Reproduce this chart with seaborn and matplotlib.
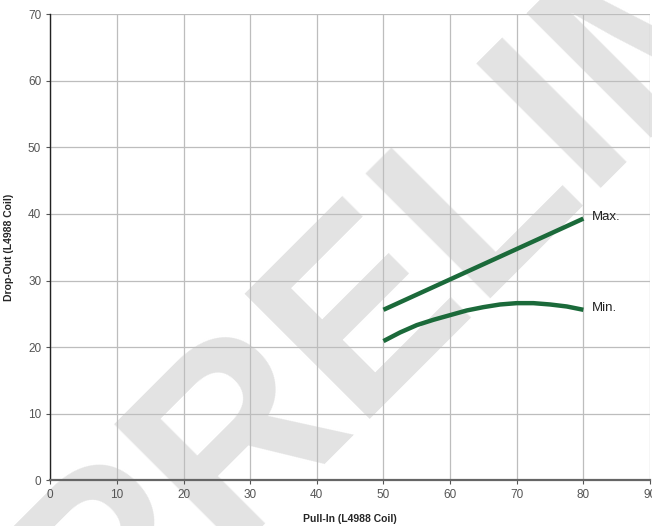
import numpy as np
import pandas as pd
import matplotlib
matplotlib.use("Agg")
import matplotlib.pyplot as plt
import seaborn as sns

# values
max_x = [50, 80]
max_y = [25.6, 39.3]
min_x = [50, 52.5, 55, 57.5, 60, 62.5, 65, 67.5, 70, 72.5, 75, 77.5, 80]
min_y = [20.9, 22.2, 23.3, 24.1, 24.8, 25.5, 26.0, 26.4, 26.6, 26.6, 26.4, 26.1, 25.6]
x_ticks = list(range(0, 91, 10))
y_ticks = list(range(0, 71, 10))

df = pd.concat([
    pd.DataFrame({"pull": max_x, "drop": max_y, "curve": "Max."}),
    pd.DataFrame({"pull": min_x, "drop": min_y, "curve": "Min."}),
])

sns.set_style("white")
plt.rcParams["font.family"] = ["Liberation Sans", "DejaVu Sans"]

fig = plt.figure(figsize=(6.52, 5.26), dpi=100)
ax = fig.add_axes([0.077, 0.087, 0.92, 0.886])

# watermark behind everything
fig.text(0.1575, -0.271, "PRELIMINARY", rotation=45, rotation_mode="anchor",
         fontsize=184, fontweight="bold", color="#e3e3e3",
         ha="left", va="baseline", zorder=-1)
ax.patch.set_alpha(0)

green = "#1b6a3a"
sns.lineplot(data=df, x="pull", y="drop", hue="curve", palette=[green, green],
             linewidth=3.2, legend=False, ax=ax, sort=False, solid_capstyle="butt")

for name, xs, ys in [("Max.", max_x, max_y), ("Min.", min_x, min_y)]:
    ax.text(xs[-1] + 1.3, ys[-1] + 0.3, name, fontsize=9.5, va="center", color="#222222")

ax.set_xlim(0, 90)
ax.set_ylim(0, 70)
ax.set_xticks(x_ticks)
ax.set_yticks(y_ticks)
ax.grid(True, color="#bdbdbd", linewidth=0.9)
ax.set_axisbelow(True)
ax.tick_params(axis="both", labelsize=8.5, labelcolor="#555555", color="#555555",
               length=3, width=0.8, direction="out", left=True, bottom=True)
ax.tick_params(axis="x", pad=3)

for s in ["top", "right"]:
    ax.spines[s].set_visible(False)
ax.spines["left"].set_color("#222222")
ax.spines["left"].set_linewidth(1)
ax.spines["bottom"].set_color("#666666")
ax.spines["bottom"].set_linewidth(1.6)

lab_font = ["Liberation Sans Narrow", "Liberation Sans"]
ax.set_xlabel("Pull-In (L4988 Coil)", fontsize=7.5, fontweight="bold",
              family=lab_font, labelpad=10)
ax.set_ylabel("Drop-Out (L4988 Coil)", fontsize=7.5, fontweight="bold",
              family=lab_font, labelpad=10)

fig.savefig("out.png", dpi=100)
